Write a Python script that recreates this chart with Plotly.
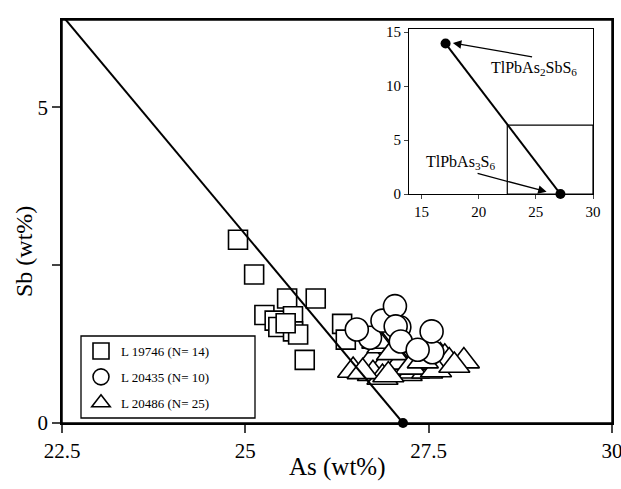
import plotly.graph_objects as go

FONT = "Liberation Serif"

# ---- data ----
sq_x = [24.90, 25.12, 25.57, 25.96, 25.26, 25.40, 25.65, 25.45, 25.65, 25.72, 25.81, 26.32, 26.37, 25.55]
sq_y = [2.90, 2.35, 1.97, 1.97, 1.71, 1.62, 1.69, 1.52, 1.45, 1.40, 1.00, 1.57, 1.32, 1.58]

ci_x = [26.70, 27.10, 27.55, 26.52, 26.87, 27.04, 27.05, 27.12, 27.35, 27.54]
ci_y = [1.35, 1.52, 1.12, 1.48, 1.62, 1.85, 1.53, 1.29, 1.16, 1.45]

tr_x = [26.47, 26.74, 26.87, 26.80, 26.92, 26.74, 26.87, 27.04, 27.12, 27.20, 27.30, 27.38, 27.48,
        27.55, 27.66, 27.72, 27.78, 27.98, 26.60, 27.00, 27.25, 27.60, 26.95, 27.42, 27.85]
tr_y = [0.83, 1.01, 1.22, 1.29, 0.96, 0.78, 0.72, 0.84, 0.96, 0.78, 0.82, 0.91, 0.82,
        0.96, 1.06, 1.04, 0.98, 0.98, 0.81, 1.11, 0.88, 0.84, 0.76, 0.98, 0.91]

end_x = [17.1, 27.15]   # TlPbAs2SbS6, TlPbAs3S6
end_y = [13.95, 0.0]

names = ["L 19746 (N= 14)", "L 20435 (N= 10)", "L 20486 (N= 25)"]

x_ticks = [22.5, 25, 27.5, 30]
x_ticktext = ["22.5", "25", "27.5", "30"]
y_ticks = [0, 2.5, 5]
y_ticktext = ["0", "", "5"]
inset_x_ticks = [15, 20, 25, 30]
inset_y_ticks = [0, 5, 10, 15]

X_RANGE = [22.5, 30]
Y_RANGE = [0, 6.38]

fig = go.Figure()

mk = dict(color="white", line=dict(color="black", width=1.6))
fig.add_trace(go.Scatter(x=sq_x, y=sq_y, mode="markers", name=names[0], legendgroup="a", legendrank=1,
                         marker=dict(symbol="square", size=19, **mk)))
fig.add_trace(go.Scatter(x=tr_x, y=tr_y, mode="markers", name=names[2], legendgroup="c", legendrank=3,
                         marker=dict(symbol="triangle-up", size=27, **mk)))
fig.add_trace(go.Scatter(x=ci_x, y=ci_y, mode="markers", name=names[1], legendgroup="b", legendrank=2,
                         marker=dict(symbol="circle", size=23, **mk)))

fig.add_trace(go.Scatter(x=end_x, y=end_y, mode="lines", showlegend=False,
                         line=dict(color="black", width=2)))
fig.add_trace(go.Scatter(x=end_x[1:], y=end_y[1:], mode="markers", showlegend=False, cliponaxis=False,
                         marker=dict(color="black", size=10)))

fig.add_trace(go.Scatter(x=end_x, y=end_y, mode="lines+markers", showlegend=False, xaxis="x2", yaxis="y2",
                         cliponaxis=False,
                         line=dict(color="black", width=2), marker=dict(color="black", size=10)))

L, R, T, B = 62, 9, 20, 66
W, H = 621, 489
PW, PH = W - L - R, H - T - B

def px(x):
    return (x - L) / PW

def py(y):
    return (H - B - y) / PH

axis_common = dict(showline=True, linecolor="black", mirror=True, showgrid=False, zeroline=False,
                   automargin=False, ticklabeloverflow="allow")

fig.update_layout(
    width=W, height=H,
    margin=dict(l=L, r=R, t=T, b=B),
    paper_bgcolor="white", plot_bgcolor="white",
    font=dict(family=FONT, color="black"),
    xaxis=dict(range=X_RANGE, tickvals=x_ticks, ticktext=x_ticktext, ticks="outside", ticklen=8,
               tickwidth=1.5, linewidth=1.5, tickfont=dict(size=21, family=FONT), **axis_common),
    yaxis=dict(range=Y_RANGE, tickvals=y_ticks, ticktext=y_ticktext, ticks="outside", ticklen=8,
               tickwidth=1.5, linewidth=1.5, tickfont=dict(size=21, family=FONT), **axis_common),
    xaxis2=dict(domain=[px(409), px(593)], anchor="y2", range=[13.9, 30], tickvals=inset_x_ticks,
                ticks="outside", ticklen=4, tickwidth=1.2, linewidth=1.2,
                tickfont=dict(size=15, family=FONT), **axis_common),
    yaxis2=dict(domain=[py(194), py(29)], anchor="x2", range=[0, 15.3], tickvals=inset_y_ticks,
                ticks="outside", ticklen=4, tickwidth=1.2, linewidth=1.2,
                tickfont=dict(size=15, family=FONT), **axis_common),
    legend=dict(x=px(81), y=py(336), xanchor="left", yanchor="top", bgcolor="rgba(0,0,0,0)",
                borderwidth=0, tracegroupgap=6,
                font=dict(size=13, family=FONT), itemsizing="trace"),
    showlegend=True,
)

# main frame (drawn explicitly so the right edge always shows)
fig.add_shape(type="rect", xref="paper", yref="paper", x0=0, x1=1, y0=0, y1=1,
              line=dict(color="black", width=1.5), layer="above")
# legend box
fig.add_shape(type="rect", xref="paper", yref="paper", x0=px(81), x1=px(255), y0=py(418), y1=py(336),
              line=dict(color="black", width=1.3), fillcolor="white", layer="above")
# inset rectangle showing main-plot window
fig.add_shape(type="rect", xref="x2", yref="y2", x0=X_RANGE[0], x1=X_RANGE[1], y0=Y_RANGE[0], y1=Y_RANGE[1],
              line=dict(color="black", width=1.2))

fig.add_annotation(x=17.74, y=14.0, ax=24.8, ay=12.7, xref="x2", yref="y2", axref="x2", ayref="y2",
                   text="", showarrow=True, arrowhead=2, arrowsize=1.3, arrowwidth=1.3, arrowcolor="black")
fig.add_annotation(x=25.94, y=0.21, ax=19.77, ay=1.94, xref="x2", yref="y2", axref="x2", ayref="y2",
                   text="", showarrow=True, arrowhead=2, arrowsize=1.3, arrowwidth=1.3, arrowcolor="black")
fig.add_annotation(x=24.8, y=11.6, xref="x2", yref="y2", showarrow=False,
                   text="TlPbAs<sub>2</sub>SbS<sub>6</sub>", font=dict(size=16, family=FONT))
fig.add_annotation(x=18.44, y=2.96, xref="x2", yref="y2", showarrow=False,
                   text="TlPbAs<sub>3</sub>S<sub>6</sub>", font=dict(size=16, family=FONT))

fig.add_annotation(x=px(337), y=py(467), xref="paper", yref="paper", showarrow=False,
                   text="As (wt%)", font=dict(size=25, family=FONT), xanchor="center", yanchor="middle")
fig.add_annotation(x=px(24), y=py(252), xref="paper", yref="paper", showarrow=False,
                   text="Sb (wt%)", textangle=-90, font=dict(size=24, family=FONT),
                   xanchor="center", yanchor="middle")

fig.write_html("out.html", config={"displayModeBar": False},
               post_script="document.body.style.margin='0';document.body.style.overflow='hidden';")
